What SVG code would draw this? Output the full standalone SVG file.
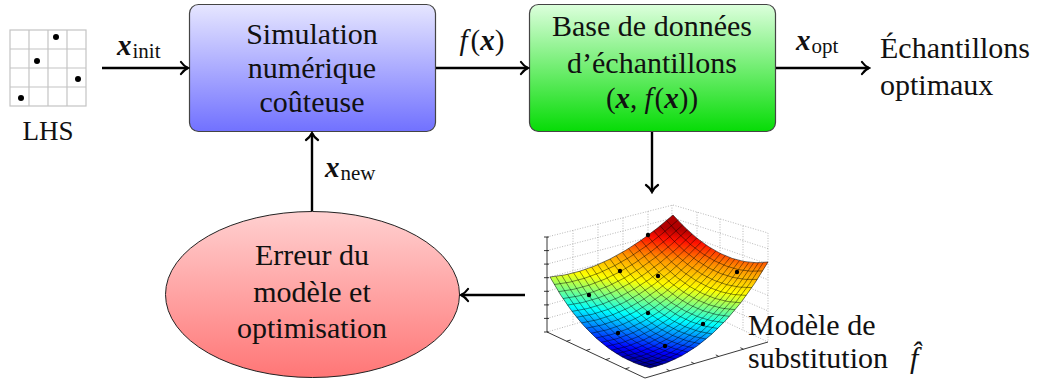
<svg xmlns="http://www.w3.org/2000/svg" width="1040" height="383" viewBox="0 0 1040 383" font-family="Liberation Serif, serif">
<defs>
<linearGradient id="gBlue" x1="0" y1="0" x2="0" y2="1"><stop offset="0" stop-color="#e6e6ff"/><stop offset="1" stop-color="#7171ff"/></linearGradient>
<linearGradient id="gGreen" x1="0" y1="0" x2="0" y2="1"><stop offset="0" stop-color="#dcffdc"/><stop offset="1" stop-color="#06dc06"/></linearGradient>
<linearGradient id="gRed" x1="0" y1="0" x2="0" y2="1"><stop offset="0" stop-color="#ffd0d0"/><stop offset="1" stop-color="#ff7676"/></linearGradient>
<linearGradient id="gJet" gradientUnits="userSpaceOnUse" x1="650" y1="368" x2="667.8" y2="227.9">
<stop offset="0" stop-color="#000080"/><stop offset="0.12" stop-color="#0000ff"/><stop offset="0.36" stop-color="#00ffff"/><stop offset="0.6" stop-color="#ffff00"/><stop offset="0.78" stop-color="#ff9000"/><stop offset="0.92" stop-color="#ff1000"/><stop offset="1" stop-color="#b00000"/>
</linearGradient>
<marker id="arr" markerUnits="userSpaceOnUse" viewBox="-10 -8 12 16" refX="0" refY="0" markerWidth="12" markerHeight="16" orient="auto">
<path d="M-7,-6 C-5,-3 -2,-1 0,0 C-2,1 -5,3 -7,6" fill="none" stroke="#000" stroke-width="2.2" stroke-linecap="round"/>
</marker>
</defs>
<style>
.t{font-size:30px;fill:#111}
.m{fill:#111}
.bx{font-weight:bold;font-style:italic;font-size:29px}
.it{font-style:italic;font-size:29px}
.rm{font-size:29px}
.sub{font-size:21px}
.con{stroke:#000;stroke-width:2.4;fill:none;marker-end:url(#arr)}
.dot{stroke:#9a9a9a;stroke-width:0.7;stroke-dasharray:1 1.6;fill:none}
.ax{stroke:#222;stroke-width:0.9;fill:none}
.mesh{stroke:#000;stroke-opacity:0.65;stroke-width:0.7;fill:none}
</style>

<g id="lhs">
<g stroke="#c4c4c4" stroke-width="1.2" fill="none">
<rect x="10" y="30" width="76" height="76"/>
<line x1="29" y1="30" x2="29" y2="106"/><line x1="48" y1="30" x2="48" y2="106"/><line x1="67" y1="30" x2="67" y2="106"/>
<line x1="10" y1="49" x2="86" y2="49"/><line x1="10" y1="68" x2="86" y2="68"/><line x1="10" y1="87" x2="86" y2="87"/>
</g>
<g fill="#000"><circle cx="56" cy="37" r="3"/><circle cx="37" cy="61" r="3"/><circle cx="78" cy="79" r="3"/><circle cx="21" cy="98" r="3"/></g>
<text class="t" x="48" y="140" text-anchor="middle" style="font-size:27px">LHS</text>
</g>

<g id="simulation">
<rect x="189.5" y="4.5" width="246" height="127" rx="9" fill="url(#gBlue)" stroke="#444" stroke-width="1.2"/>
<text class="t" x="312" y="44" text-anchor="middle">Simulation</text>
<text class="t" x="312" y="78" text-anchor="middle">numérique</text>
<text class="t" x="312" y="112" text-anchor="middle">coûteuse</text>
</g>

<g id="database">
<rect x="529.5" y="4.5" width="246" height="127" rx="9" fill="url(#gGreen)" stroke="#444" stroke-width="1.2"/>
<text class="t" x="652" y="36" text-anchor="middle">Base de données</text>
<text class="t" x="652" y="73" text-anchor="middle">d’échantillons</text>
<text class="m" x="652" y="108" text-anchor="middle"><tspan class="rm">(</tspan><tspan class="bx">x</tspan><tspan class="rm">, </tspan><tspan class="it">f</tspan><tspan class="rm" dx="2">(</tspan><tspan class="bx">x</tspan><tspan class="rm">))</tspan></text>
</g>

<g id="optimal">
<text class="t" x="880" y="58">Échantillons</text>
<text class="t" x="880" y="95">optimaux</text>
</g>

<g id="error">
<ellipse cx="312.5" cy="294.5" rx="147" ry="83" fill="url(#gRed)" stroke="#222" stroke-width="1"/>
<text class="t" x="312" y="265" text-anchor="middle">Erreur du</text>
<text class="t" x="312" y="302" text-anchor="middle">modèle et</text>
<text class="t" x="312" y="338" text-anchor="middle">optimisation</text>
</g>

<g id="surrogate">
<g class="dot">
<path d="M547,237 L673,205 L768,233 L768,342"/>
<path d="M547,250.6 L673,218 M547,264.1 L673,231 M547,277.7 L673,244 M547,291.3 L673,257 M547,304.9 L673,270 M547,318.4 L673,283 M547,332 L671,296"/>
<path d="M573,230.4 L573,324.5 M598,224 L598,317.2 M623,217.7 L623,310 M648,211.3 L648,302.7 M672,205 L671,296"/>
<path d="M673,218 L768,248.6 M673,231 L768,264.1 M673,244 L768,279.7 M673,257 L768,295.3 M673,270 L768,310.9 M673,283 L768,326.4 M671,296 L768,342"/>
<path d="M697,212.1 L697,308.3 M720,218.9 L720,319.2 M743,225.8 L743,330.1"/>
</g>
<g class="ax">
<path d="M547,237 L547,332 L645,378 L768,342"/>
<path d="M544,237 L549,237 M544,250.6 L549,250.6 M544,264.1 L549,264.1 M544,277.7 L549,277.7 M544,291.3 L549,291.3 M544,304.9 L549,304.9 M544,318.4 L549,318.4 M544,332 L549,332"/>
<path d="M566.6,341.2 L570.6,340 M586.2,350.4 L590.2,349.2 M605.8,359.6 L609.8,358.4 M625.4,368.8 L629.4,367.6"/>
<path d="M669.6,370.8 L666.6,369.3 M694.2,363.6 L691.2,362.1 M718.8,356.4 L715.8,354.9 M743.4,349.2 L740.4,347.7"/>
</g>
<path d="M550,277 Q608.5,272 673,215 Q720.5,268.5 768,262 Q715,353 650,368 Q592,353.5 550,277 Z" fill="url(#gJet)"/>
<g class="mesh">
<path d="M555.87,276.37 Q598.57,352.29 656.47,366.31 M561.76,275.48 Q605.12,350.76 662.88,364.24 M567.69,274.33 Q611.66,348.91 669.23,361.79 M573.64,272.92 Q618.18,346.74 675.52,358.96 M579.63,271.25 Q624.69,344.25 681.75,355.75 M585.64,269.32 Q631.18,341.44 687.92,352.16 M591.69,267.13 Q637.66,338.31 694.03,348.19 M597.76,264.68 Q644.12,334.86 700.08,343.84 M603.87,261.97 Q650.57,331.09 706.07,339.11 M610,259 Q657,327 712,334 M616.17,255.77 Q663.42,322.59 717.87,328.51 M622.36,252.28 Q669.82,317.86 723.68,322.64 M628.59,248.53 Q676.21,312.81 729.43,316.39 M634.84,244.52 Q682.58,307.44 735.12,309.76 M641.13,240.25 Q688.94,301.75 740.75,302.75 M647.44,235.72 Q695.28,295.74 746.32,295.36 M653.79,230.93 Q701.61,289.41 751.83,287.59 M660.16,225.88 Q707.92,282.76 757.28,279.44 M666.57,220.57 Q714.22,275.79 762.67,270.91"/>
<path d="M554.24,284.5 Q613.45,278.95 677.75,220.2 M558.56,291.68 Q618.43,285.59 682.5,225.1 M562.96,298.56 Q623.45,291.93 687.25,229.7 M567.44,305.12 Q628.52,297.96 692,234 M572,311.38 Q633.63,303.69 696.75,238 M576.64,317.32 Q638.77,309.11 701.5,241.7 M581.36,322.96 Q643.96,314.23 706.25,245.1 M586.16,328.28 Q649.18,319.04 711,248.2 M591.04,333.3 Q654.45,323.55 715.75,251 M596,338 Q659.75,327.75 720.5,253.5 M601.04,342.4 Q665.1,331.65 725.25,255.7 M606.16,346.48 Q670.48,335.24 730,257.6 M611.36,350.26 Q675.91,338.53 734.75,259.2 M616.64,353.72 Q681.37,341.51 739.5,260.5 M622,356.88 Q686.88,344.19 744.25,261.5 M627.44,359.72 Q692.42,346.56 749,262.2 M632.96,362.26 Q698.01,348.63 753.75,262.6 M638.56,364.48 Q703.63,350.39 758.5,262.7 M644.24,366.4 Q709.3,351.85 763.25,262.5"/>
</g>
<path d="M550,277 Q608.5,272 673,215 Q720.5,268.5 768,262 Q715,353 650,368 Q592,353.5 550,277 Z" fill="none" stroke="#000" stroke-opacity="0.65" stroke-width="0.8"/>
<g fill="#000"><circle cx="648" cy="235" r="2.2"/><circle cx="620" cy="271" r="2.2"/><circle cx="658" cy="276" r="2.2"/><circle cx="737" cy="272" r="2.2"/><circle cx="589" cy="295" r="2.2"/><circle cx="648" cy="313" r="2.2"/><circle cx="703" cy="324" r="2.2"/><circle cx="665" cy="346" r="2.2"/><circle cx="618" cy="333" r="2.2"/></g>
<text class="t" x="748" y="335">Modèle de</text>
<text class="t" x="748" y="368">substitution<tspan class="it" dx="22" style="font-size:30px">f̂</tspan></text>
</g>

<g id="connectors">
<line class="con" x1="102" y1="68" x2="188" y2="68"/>
<line class="con" x1="436" y1="68" x2="528" y2="68"/>
<line class="con" x1="776" y1="68" x2="869" y2="68"/>
<line class="con" x1="652" y1="132" x2="652" y2="192"/>
<line class="con" x1="525" y1="295" x2="461" y2="295"/>
<line class="con" x1="312" y1="211" x2="312" y2="133"/>
<text class="m" x="117" y="55"><tspan class="bx">x</tspan><tspan class="sub" dx="1" dy="3">init</tspan></text>
<text class="m" x="482" y="50" text-anchor="middle"><tspan class="it">f</tspan><tspan class="rm" dx="3">(</tspan><tspan class="bx">x</tspan><tspan class="rm">)</tspan></text>
<text class="m" x="796" y="50"><tspan class="bx">x</tspan><tspan class="sub" dx="1" dy="3">opt</tspan></text>
<text class="m" x="325" y="177"><tspan class="bx">x</tspan><tspan class="sub" dx="1" dy="3">new</tspan></text>
</g>
</svg>
